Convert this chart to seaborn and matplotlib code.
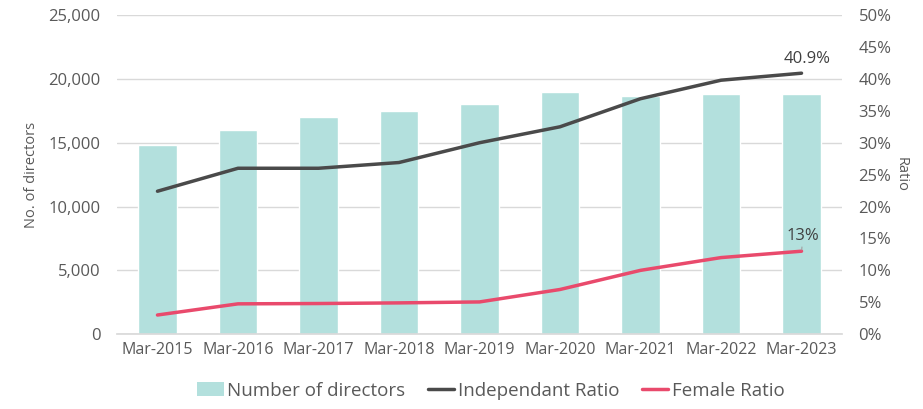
import matplotlib
matplotlib.use("Agg")
import matplotlib.pyplot as plt
import matplotlib.ticker as mticker
from matplotlib.patches import Patch
from matplotlib.lines import Line2D
import numpy as np
import pandas as pd
import seaborn as sns

# data
periods = ["Mar-2015", "Mar-2016", "Mar-2017", "Mar-2018", "Mar-2019",
           "Mar-2020", "Mar-2021", "Mar-2022", "Mar-2023"]
directors = [14850, 16000, 17000, 17500, 18000, 19000, 18700, 18800, 18800]
independent_ratio = [22.4, 26.0, 26.0, 26.9, 30.0, 32.5, 36.9, 39.8, 40.9]
female_ratio = [3.0, 4.75, 4.8, 4.9, 5.05, 7.0, 10.0, 12.0, 13.0]

BAR_COLOR = "#b3e0dd"
DARK = "#4a4a4a"
PINK = "#e94a6c"
TEXT = "#595959"
GRID = "#d9d9d9"

sns.set_theme(style="white")
plt.rcParams["font.family"] = ["Open Sans", "DejaVu Sans"]

df = pd.DataFrame({"period": periods, "directors": directors,
                   "independent": independent_ratio, "female": female_ratio})
df["pos"] = np.arange(len(df))

fig = plt.figure(figsize=(9.23, 4.09), dpi=100)
ax = fig.add_axes([0.127, 0.183, 0.785, 0.78])

sns.barplot(data=df, x="period", y="directors", color=BAR_COLOR,
            width=0.48, saturation=1, ax=ax, zorder=2)
ax.set_ylim(0, 25000)
ax.yaxis.set_major_locator(mticker.MultipleLocator(5000))
ax.yaxis.set_major_formatter(mticker.StrMethodFormatter("{x:,.0f}"))
ax.grid(axis="y", color=GRID, linewidth=1, zorder=0)
ax.set_axisbelow(True)
ax.set_xlabel("")
ax.set_ylabel("No. of directors", fontsize=10.5, color=TEXT, labelpad=7)
ax.set_xlim(-0.5, len(periods) - 0.5)
for side in ["top", "right", "left"]:
    ax.spines[side].set_visible(False)
ax.spines["bottom"].set_color(GRID)
ax.tick_params(axis="x", length=0, labelsize=11.5, colors=TEXT, pad=6)
ax.tick_params(axis="y", length=0, labelsize=12, colors=TEXT, pad=12)
# Excel-style tick marks between categories
ax.set_xticks(np.arange(len(periods) + 1) - 0.5, minor=True)
ax.tick_params(axis="x", which="minor", length=5, color=GRID, width=1)

ax2 = ax.twinx()
sns.lineplot(data=df, x="pos", y="independent", color=DARK, linewidth=2.5, ax=ax2)
sns.lineplot(data=df, x="pos", y="female", color=PINK, linewidth=2.5, ax=ax2)
ax2.set_ylim(0, 50)
ax2.yaxis.set_major_locator(mticker.MultipleLocator(5))
ax2.yaxis.set_major_formatter(mticker.FuncFormatter(lambda v, _: f"{v:.0f}%"))
ax2.set_ylabel("Ratio", fontsize=10.5, color=TEXT, rotation=270, labelpad=12)
ax2.set_xlabel("")
ax2.tick_params(axis="y", length=0, labelsize=12, colors=TEXT, pad=12)
for side in ["top", "right", "left", "bottom"]:
    ax2.spines[side].set_visible(False)
ax2.set_xlim(-0.5, len(periods) - 0.5)

last = len(periods) - 1
ax2.annotate(f"{independent_ratio[-1]}%", xy=(last, independent_ratio[-1]),
             xytext=(last + 0.07, independent_ratio[-1] + 1.6), ha="center",
             fontsize=12, color="#404040")
ax2.annotate(f"{female_ratio[-1]:.0f}%", xy=(last, female_ratio[-1]),
             xytext=(last + 0.02, female_ratio[-1] + 1.8), ha="center",
             fontsize=12, color="#404040",
             arrowprops=dict(arrowstyle="-", color="#a0a0a0", lw=0.8,
                             shrinkA=0, shrinkB=1))

handles = [Patch(facecolor=BAR_COLOR, edgecolor="none"),
           Line2D([], [], color=DARK, linewidth=2.5),
           Line2D([], [], color=PINK, linewidth=2.5)]
labels = ["Number of directors", "Independant Ratio", "Female Ratio"]
leg = fig.legend(handles, labels, loc="center", bbox_to_anchor=(0.532, 0.045),
                 ncol=3, frameon=False, fontsize=13.5, handlelength=1.4,
                 handletextpad=0.2, columnspacing=1.2)
for t in leg.get_texts():
    t.set_color(TEXT)

fig.savefig("out.png", dpi=100)
